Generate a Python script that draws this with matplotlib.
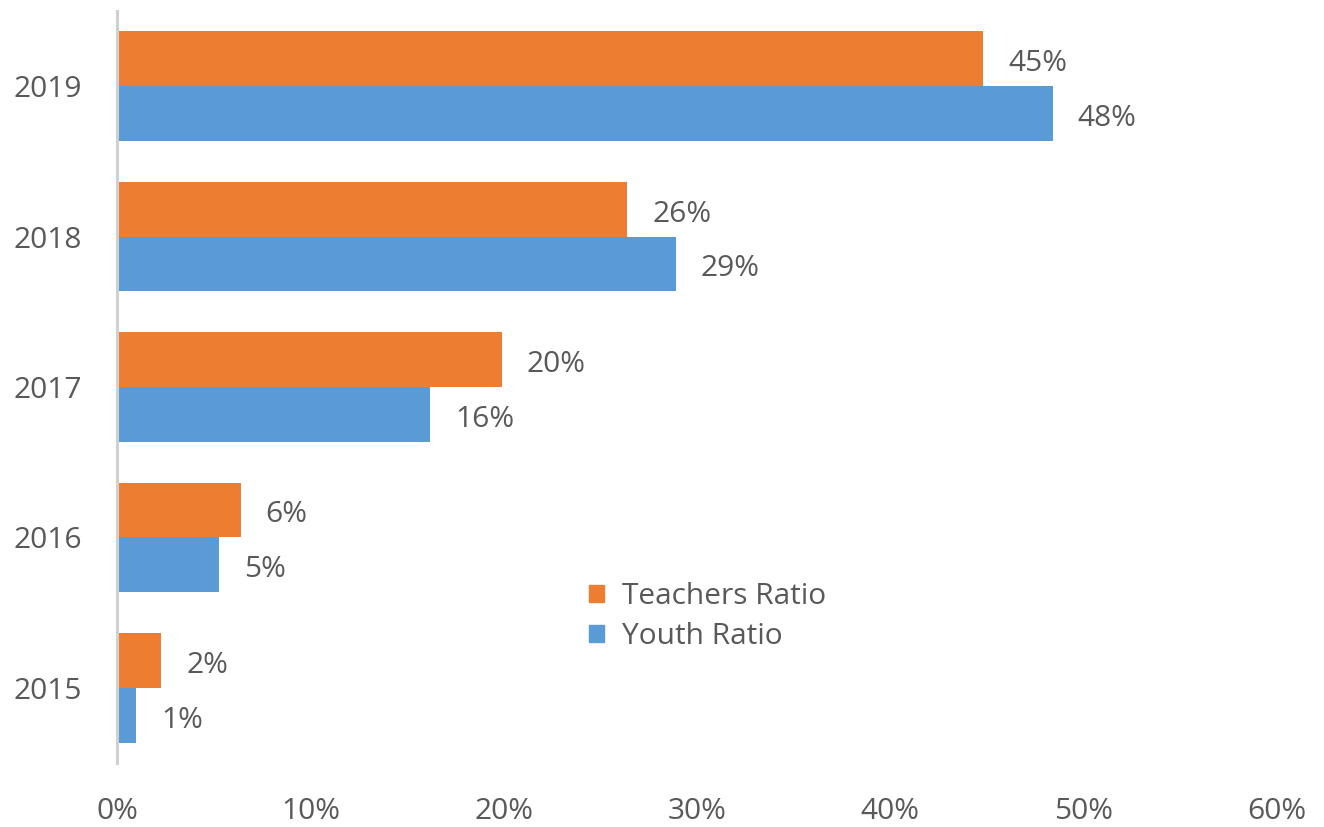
import numpy as np
import matplotlib
matplotlib.use("Agg")
import matplotlib.pyplot as plt
from matplotlib.patches import Patch

plt.rcParams['font.family'] = ['Open Sans', 'DejaVu Sans']

years = ['2015', '2016', '2017', '2018', '2019']
teachers = [2.3, 6.4, 19.9, 26.4, 44.8]
youth = [1.0, 5.3, 16.2, 28.9, 48.4]
xticks = [0, 10, 20, 30, 40, 50, 60]

ORANGE = '#ED7D31'
BLUE = '#5B9BD5'
GREY_TXT = '#595959'
FS = 21.5

fig = plt.figure(figsize=(13.24, 8.27), dpi=100)
ax = fig.add_axes([117 / 1324, 1 - 763 / 827, (1277 - 117) / 1324, (763 - 11) / 827])

y = np.arange(len(years))
h = 0.365
b1 = ax.barh(y + h / 2, teachers, height=h, color=ORANGE, label='Teachers Ratio')
b2 = ax.barh(y - h / 2, youth, height=h, color=BLUE, label='Youth Ratio')

# value labels next to each bar
for bars, vals in ((b1, teachers), (b2, youth)):
    for bar, v in zip(bars, vals):
        ax.annotate(f'{v:.0f}%', (v, bar.get_y() + bar.get_height() / 2),
                    xytext=(18, -3.5), textcoords='offset points',
                    ha='left', va='center', fontsize=FS, color=GREY_TXT)

ax.set_xlim(0, 60)
ax.set_ylim(-0.5, 4.5)
ax.set_xticks(xticks)
ax.set_xticklabels([f'{t}%' for t in xticks])
ax.set_yticks(y)
ax.set_yticklabels(years)
ax.tick_params(axis='x', length=0, pad=24.5, labelsize=FS, labelcolor=GREY_TXT)
ax.tick_params(axis='y', length=0, pad=25, labelsize=FS, labelcolor=GREY_TXT)

for s in ('top', 'right', 'bottom'):
    ax.spines[s].set_visible(False)
ax.spines['left'].set_color('#D0D0D0')
ax.spines['left'].set_linewidth(2.2)

handles = [Patch(color=ORANGE, label='Teachers Ratio'), Patch(color=BLUE, label='Youth Ratio')]
leg = fig.legend(handles=handles, loc='upper left', bbox_to_anchor=(589 / 1324, 1 - 582 / 827),
                 frameon=False, fontsize=FS, handlelength=0.5, handleheight=0.5,
                 handletextpad=0.6, labelspacing=0.38, borderpad=0, borderaxespad=0)
for t in leg.get_texts():
    t.set_color(GREY_TXT)

fig.savefig('out.png', dpi=100)
